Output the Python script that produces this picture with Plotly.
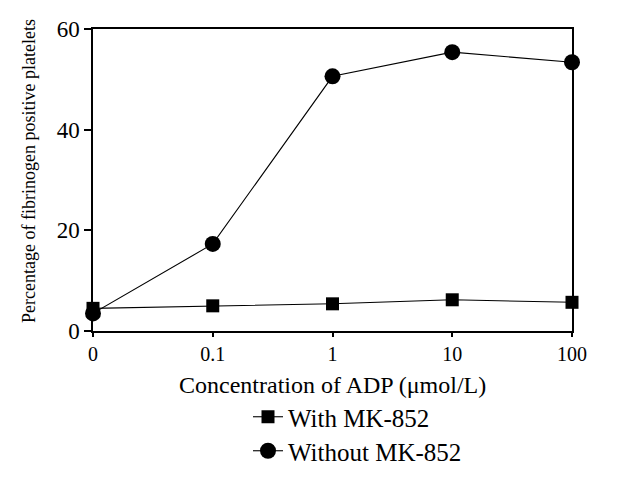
import plotly.graph_objects as go

categories = ["0", "0.1", "1", "10", "100"]
with_mk852 = [4.5, 5.0, 5.4, 6.2, 5.7]
without_mk852 = [3.5, 17.3, 50.6, 55.4, 53.4]
y_ticks = [0, 20, 40, 60]

xpos = list(range(len(categories)))
font_family = "Liberation Serif, Times New Roman, serif"

L, R, T, B = 85, 564, 21, 323
W, H = R - L, B - T

fig = go.Figure()
fig.add_trace(go.Scatter(
    x=xpos, y=without_mk852, name="Without MK-852", mode="lines+markers",
    line=dict(color="black", width=1.1),
    marker=dict(symbol="circle", size=16, color="black"),
    cliponaxis=False, legend="legend2",
))
fig.add_trace(go.Scatter(
    x=xpos, y=with_mk852, name="With MK-852", mode="lines+markers",
    line=dict(color="black", width=1.1),
    marker=dict(symbol="square", size=13, color="black"),
    cliponaxis=False, legend="legend",
))

leg_common = dict(
    orientation="v", xanchor="left", yanchor="middle",
    font=dict(size=25, family=font_family, color="black"),
    bgcolor="rgba(0,0,0,0)", borderwidth=0,
)

fig.update_layout(
    width=638, height=486,
    margin=dict(l=L, r=638 - R, t=T, b=486 - B, autoexpand=False),
    paper_bgcolor="white", plot_bgcolor="white",
    font=dict(family=font_family, color="black", size=20),
    showlegend=True,
    legend=dict(x=(240 - L) / W, y=-(409 - B) / H, **leg_common),
    legend2=dict(x=(240 - L) / W, y=-(443 - B) / H, **leg_common),
    xaxis=dict(
        range=[0, 4], tickmode="array", tickvals=xpos, ticktext=categories,
        showline=True, linecolor="black", linewidth=1.5, mirror=True,
        ticks="outside", ticklen=4, tickcolor="black", tickwidth=1.5,
        showgrid=False, zeroline=False, automargin=False,
        tickfont=dict(size=20),
    ),
    yaxis=dict(
        range=[0, 60], tickmode="array", tickvals=y_ticks,
        showline=True, linecolor="black", linewidth=1.5, mirror=True,
        ticks="outside", ticklen=7, tickcolor="black", tickwidth=1.5,
        showgrid=False, zeroline=False, automargin=False,
        tickfont=dict(size=23),
    ),
    annotations=[
        dict(
            text="Percentage of fibrinogen positive platelets",
            textangle=-90, showarrow=False,
            xref="paper", yref="paper",
            x=(21 - L) / W, y=(B - 163) / H,
            xanchor="center", yanchor="middle",
            font=dict(size=18, family=font_family, color="black"),
        ),
        dict(
            text="Concentration of ADP (μmol/L)",
            showarrow=False, xref="paper", yref="paper",
            x=0.5, y=-(362 - B) / H,
            xanchor="center", yanchor="top",
            font=dict(size=24, family=font_family, color="black"),
        ),
    ],
)

fig.write_html("out.html")
